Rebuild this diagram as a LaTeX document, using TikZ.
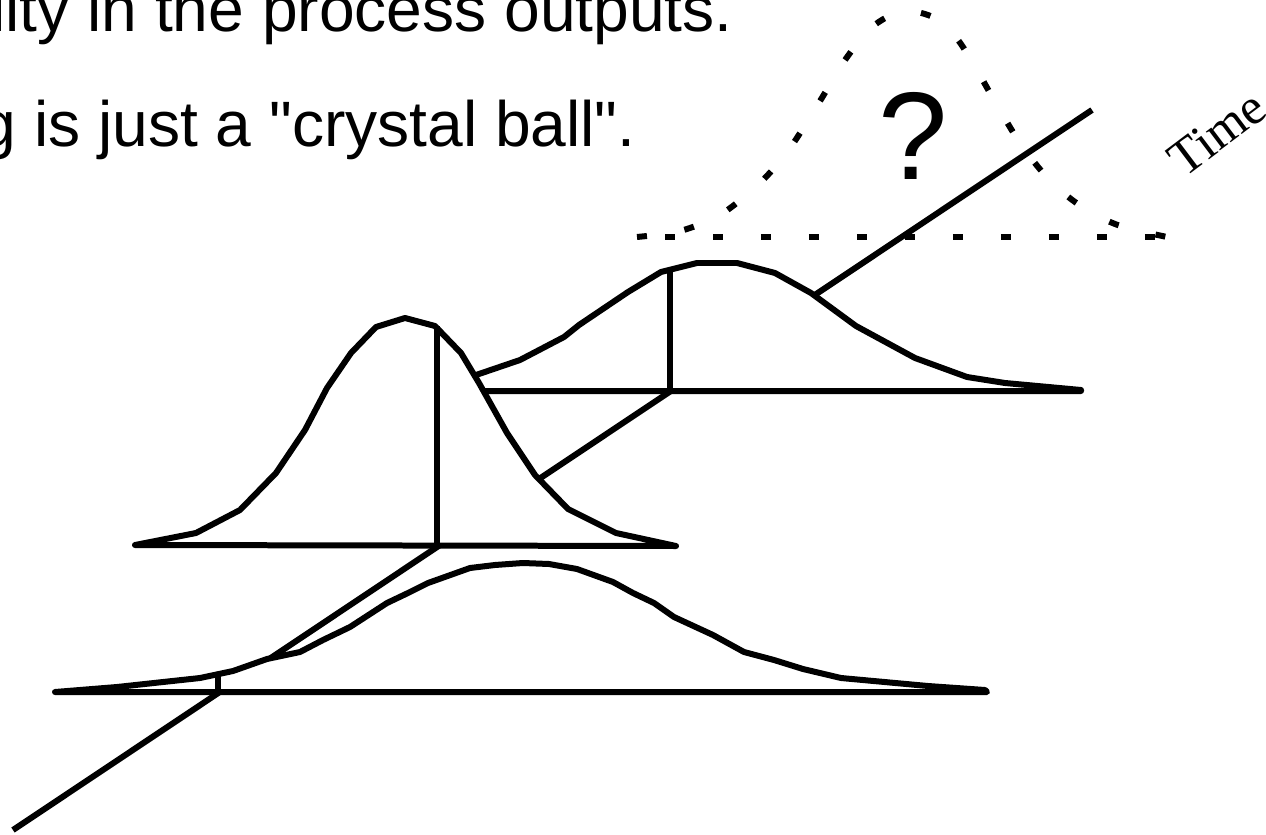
\documentclass[tikz,border=0pt]{standalone}
\usepackage{fontspec}
\setmainfont{Liberation Sans}[Ligatures=TeXOff]
\newfontfamily\timesfont{Liberation Serif}
\usepackage{tikz}
\usetikzlibrary{calc, positioning}

\tikzset{
    bell/.style={line width=0.12cm, line join=round, fill=white},
    axisline/.style={line width=0.12cm},
    dashbell/.style={line width=0.12cm, dash pattern=on 0.2cm off 0.76cm},
}

\begin{document}
\begin{tikzpicture}[x=0.02cm, y=-0.02cm]
    \useasboundingbox (0,0) rectangle (1266,834);

    % =================================================================
    % 1. TIME AXIS POINTS
    % =================================================================
    \coordinate (T0) at (13,830);
    \coordinate (Tfront) at (218,692);
    \coordinate (Tmid) at (437,546);
    \coordinate (Tback) at (670,391);
    \coordinate (T1) at (1092,110);

    % =================================================================
    % 2. TEXT LINES, QUESTION MARK AND AXIS LABEL
    % =================================================================
    \node[anchor=base east, inner sep=0pt, font=\fontsize{36.5}{40}\selectfont]
        (line1) at (733,32) {lity in the process outputs.};
    \node[anchor=base east, inner sep=0pt, font=\fontsize{36.5}{40}\selectfont]
        (line2) at (636,147) {g is just a "crystal ball".};
    \node[inner sep=0pt, font=\fontsize{71}{80}\selectfont] (qmark) at (913,136) {?};
    \node[inner sep=0pt, rotate=37, font=\timesfont\fontsize{29}{32}\selectfont]
        (timelabel) at (1217,133) {Time};

    % =================================================================
    % 3. FUTURE (DASHED) DISTRIBUTION
    % =================================================================
    \draw[dashbell] (665,237) -- (1167,237);
    \draw[dashbell] plot[smooth] coordinates {(637,237) (680,231) (720,215) (760,183)
        (790,148) (820,101) (845,60) (872,27) (903,11) (935,18) (958,40) (978,72)
        (998,107) (1020,143) (1045,175) (1075,202) (1115,224) (1167,237)};

    % =================================================================
    % 4. TIME AXIS
    % =================================================================
    \draw[axisline] (T0) -- (T1);

    % =================================================================
    % 5. BACK DISTRIBUTION
    % =================================================================
    \draw[bell] (430,391) -- (476,375) -- (520,360) -- (564,337) -- (579,325)
        -- (628,292) -- (661,272) -- (697,263) -- (737,263) -- (775,273) -- (811,293)
        -- (856,326) -- (915,358) -- (967,377) -- (1005,383) -- (1081,390)
        -- (1081,391) -- cycle;
    \draw[axisline] (Tback) -- ++(0,-121);

    % =================================================================
    % 6. MIDDLE DISTRIBUTION
    % =================================================================
    \draw[bell] (135,545) -- (196,533) -- (240,510) -- (276,473) -- (305,430)
        -- (327,388) -- (351,353) -- (376,327) -- (405,318) -- (435,326) -- (461,353)
        -- (479,383) -- (507,433) -- (535,475) -- (568,509) -- (616,533) -- (676,546)
        -- cycle;
    \draw[axisline] (Tmid) -- ++(0,-220);

    % =================================================================
    % 7. FRONT DISTRIBUTION
    % =================================================================
    \draw[bell] (55,692) -- (117,687) -- (200,678) -- (233,671) -- (267,659)
        -- (300,652) -- (323,640) -- (350,627) -- (387,603) -- (408,593) -- (428,583)
        -- (470,568) -- (495,565) -- (523,563) -- (549,564) -- (577,569) -- (613,582)
        -- (633,593) -- (654,603) -- (674,617) -- (713,635) -- (744,652) -- (774,660)
        -- (803,669) -- (841,678) -- (928,686) -- (985,690) -- (987,692) -- cycle;
    \draw[axisline] (Tfront) -- ++(0,-18);

\end{tikzpicture}
\end{document}
